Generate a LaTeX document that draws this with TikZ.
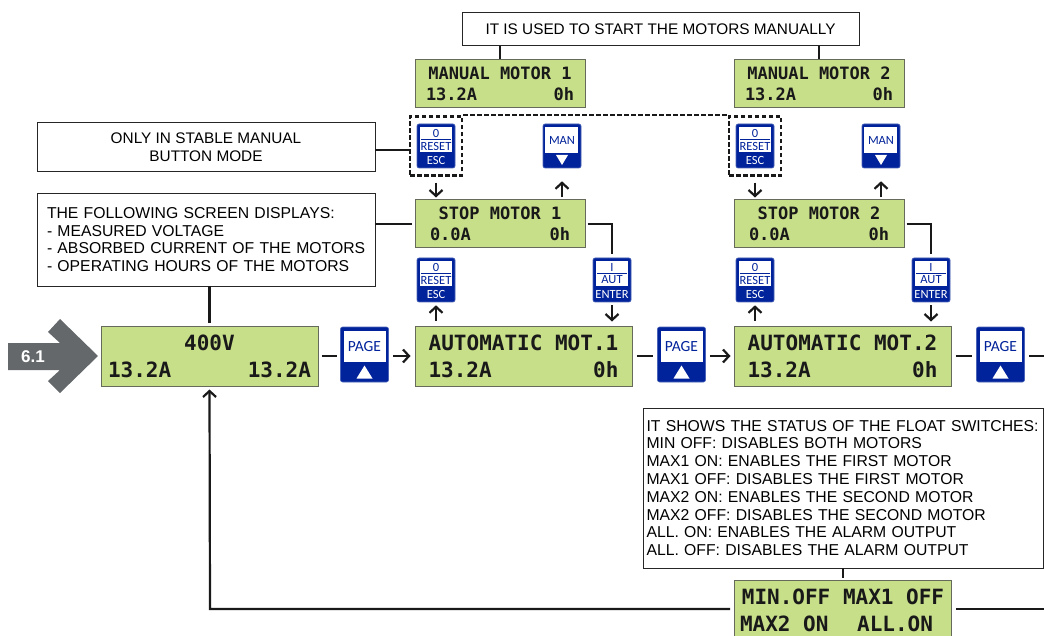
\documentclass[tikz,border=0pt]{standalone}
\usepackage{fontspec}
\setmainfont{Liberation Sans}
\newfontfamily\lcdfont{DejaVu Sans Mono}[BoldFont={DejaVu Sans Mono Bold}]
\newfontfamily\btnfont{Carlito}
\usetikzlibrary{arrows.meta}
\definecolor{lcdgreen}{HTML}{C8DF8A}
\definecolor{lcdedge}{HTML}{666A5A}
\definecolor{btnblue}{HTML}{00229A}
\definecolor{markgray}{HTML}{64686A}
\newcommand{\lcdrow}[2]{\leavevmode\hbox to\hsize{\spaceskip=.602em\relax #1\hfil #2}}
\newcommand{\lcdmid}[1]{\leavevmode\hbox to\hsize{\spaceskip=.602em\relax\hfil #1\hfil}}
% buttons: name, position of the centre, then the texts
\newcommand{\escbtn}[4]{
	\node[btnbody, minimum width=38pt, minimum height=44pt] (#1) at (#2) {};
	\begin{scope}[shift={(#2)}]
		\fill[white] (-16,-19) rectangle (16,6);
		\draw[btnblue, line width=.7pt] (-15,-7) -- (15,-7);
		\node[btnlabel] (#1top) at (0,-13) {#3};
		\node[btnlabel] (#1mid) at (0,0) {#4};
		\node[btnlabel, text=white] (#1low) at (0,14) {\ifx#3I ENTER\else ESC\fi};
	\end{scope}
}
\newcommand{\manbtn}[2]{
	\node[btnbody, minimum width=38pt, minimum height=44pt] (#1) at (#2) {};
	\begin{scope}[shift={(#2)}]
		\fill[white] (-17,-19) rectangle (16,7);
		\fill[white] (-6,9) -- (6,9) -- (0,19) -- cycle;
		\node[btnlabel] (#1txt) at (0,-6) {MAN};
	\end{scope}
}
\newcommand{\pagebtn}[2]{
	\node[btnbody, minimum width=48pt, minimum height=55pt] (#1) at (#2) {};
	\begin{scope}[shift={(#2)}]
		\fill[white] (-21,-24) rectangle (21,7);
		\fill[white] (-8,24) -- (8,24) -- (0,11) -- cycle;
		\node[btnlabel, font=\btnfont\fontsize{15.5}{15.5}\selectfont] (#1txt) at (0,-8) {PAGE};
	\end{scope}
}
\begin{document}
\begin{tikzpicture}[x=1pt, y=-1pt,
	note/.style={draw=black!85, line width=.9pt, fill=white, inner sep=0pt, font=\fontsize{15.35}{17.8}\selectfont},
	longnote/.style={note, align=left, font=\fontsize{15.75}{17.8}\selectfont},
	lcd/.style={draw=lcdedge, line width=1pt, fill=lcdgreen, inner sep=0pt, align=left, text=black!90},
	lcdbig/.style={lcd, minimum width=217pt, minimum height=60pt, text width=190pt, font=\lcdfont\bfseries\fontsize{21}{27}\selectfont},
	lcdsmall/.style={lcd, minimum width=170pt, minimum height=48pt, text width=148pt, font=\lcdfont\bfseries\fontsize{17}{21}\selectfont},
	btnbody/.style={draw=btnblue!70, fill=btnblue, rounded corners=2pt, line width=.6pt, inner sep=0pt},
	btnlabel/.style={text=btnblue, inner sep=0pt, font=\btnfont\fontsize{12.5}{12.5}\selectfont},
	conn/.style={draw=black!90, line width=2.2pt},
	flow/.style={conn, -{Straight Barb[length=6pt, width=13pt]}},
	dashbox/.style={draw=black!90, line width=2.4pt, dash pattern=on 4.5pt off 2.5pt, inner sep=0pt}]
	\useasboundingbox (0,0) rectangle (1044,636);
	% entry mark
	\fill[markgray] (8,343) -- (60,343) -- (48,332) -- (60,319) -- (98,356) -- (60,393) -- (48,381) -- (60,370) -- (8,370) -- cycle;
	\node[text=white, inner sep=0pt, font=\bfseries\fontsize{17}{17}\selectfont] (mark) at (33,357) {6.1};
	% notes
	\node[note, minimum width=397pt, minimum height=33pt] (topnote) at (660.5,29) {IT IS USED TO START THE MOTORS MANUALLY};
	\node[note, minimum width=338pt, minimum height=49pt, align=center] (modenote) at (206,147) {ONLY IN STABLE MANUAL\\BUTTON MODE};
	\node[longnote, minimum width=338pt, minimum height=93pt, text width=318pt] (dispnote) at (206,239.5) {THE FOLLOWING SCREEN DISPLAYS:\\- MEASURED VOLTAGE\\\mbox{- ABSORBED CURRENT OF THE MOTORS}\\- OPERATING HOURS OF THE MOTORS};
	\node[longnote, minimum width=400pt, minimum height=160pt, text width=393pt] (floatnote) at (843,488) {IT SHOWS THE STATUS OF THE FLOAT SWITCHES:\\MIN OFF: DISABLES BOTH MOTORS\\MAX1 ON: ENABLES THE FIRST MOTOR\\MAX1 OFF: DISABLES THE FIRST MOTOR\\MAX2 ON: ENABLES THE SECOND MOTOR\\MAX2 OFF: DISABLES THE SECOND MOTOR\\ALL. ON: ENABLES THE ALARM OUTPUT\\ALL. OFF: DISABLES THE ALARM OUTPUT};
	% main row
	\node[lcdbig, text width=203pt] (volt) at (209.5,356) {\lcdmid{400V}\\\lcdrow{13.2A}{13.2A}};
	\pagebtn{page0}{364.5,354.5}
	\node[lcdbig, text width=206pt] (float) at (843,610) {\lcdmid{MIN.OFF MAX1 OFF}\\\lcdrow{MAX2 ON}{ALL.ON\hspace{13pt}}};
	\draw[conn, shorten <=3pt, shorten >=3pt] (volt.east) -- (volt.east -| page0.west);
	\draw[conn] (dispnote.south -| volt.north) -- ([yshift=3pt]volt.north);
	\draw[conn] (floatnote.south -| float.north) -- ([yshift=2pt]float.north);
	\coordinate (loopend) at (210,609);
	\draw[flow] (float.west |- loopend) ++(-4,0) -- (loopend) -- ([yshift=-3pt]volt.south);
	\coordinate (rightend) at (1044,609);
	\draw[conn] ([xshift=4pt]float.east |- rightend) -- (rightend);
	\coordinate (pagend) at (1044,356);
	% one motor, twice
	\foreach \m/\x in {1/0,2/319}{
		\begin{scope}[xshift=\x pt]
			\node[lcdsmall] (manual\m) at (500,83.5) {\lcdmid{MANUAL MOTOR \m}\\\lcdrow{13.2A}{0h}};
			\node[lcdsmall, text width=140pt] (stop\m) at (500,224) {\lcdmid{STOP MOTOR \m}\\\lcdrow{0.0A}{0h}};
			\node[lcdbig] (auto\m) at (523.5,356) {\lcdmid{AUTOMATIC MOT.\m}\\\lcdrow{13.2A}{0h}};
			\escbtn{reset\m}{436,146}{0}{RESET}
			\manbtn{man\m}{562,146}
			\escbtn{esc\m}{436,280}{0}{RESET}
			\escbtn{aut\m}{612,280}{I}{AUT}
			\pagebtn{page\m}{681.5,354.5}
			\node[dashbox, minimum width=52pt, minimum height=59pt] (dash\m) at (reset\m) {};
			\draw[conn] (manual\m.north) -- (manual\m.north |- topnote.south);
			\draw[flow, shorten <=1pt] (dash\m.south) ++(0,5) -- ([yshift=2pt]stop\m.north -| dash\m);
			\draw[flow, shorten <=2pt, shorten >=13pt] (man\m.south |- stop\m.north) -- (man\m.south);
			\draw[flow, shorten <=5pt, shorten >=3pt] (esc\m.south |- auto\m.north) -- (esc\m.south);
			\draw[conn, shorten <=2pt] (stop\m.east) -- (stop\m.east -| aut\m) -- ([yshift=4pt]aut\m.north);
			\draw[flow, shorten <=3pt, shorten >=4pt] (aut\m.south) -- (aut\m.south |- auto\m.north);
			\draw[conn, shorten <=4pt, shorten >=4pt] (auto\m.east) -- (auto\m.east -| page\m.west);
		\end{scope}
	}
	% links that do not repeat
	\draw[flow, shorten <=4pt, shorten >=4pt] (auto1.west -| page0.east) -- (auto1.west);
	\draw[flow, shorten <=4pt, shorten >=3pt] (auto2.west -| page1.east) -- (auto2.west);
	\draw[conn, shorten <=4pt] (pagend -| page2.east) -- (pagend);
	\draw[conn] ([yshift=-3pt]modenote.east) -- ([yshift=-3pt]modenote.east -| dash1.west);
	\draw[conn, shorten >=3pt] (dispnote.east |- stop1) -- (stop1.west);
	\draw[dashbox] (dash1.north east) -- (dash2.north west);
\end{tikzpicture}
\end{document}
